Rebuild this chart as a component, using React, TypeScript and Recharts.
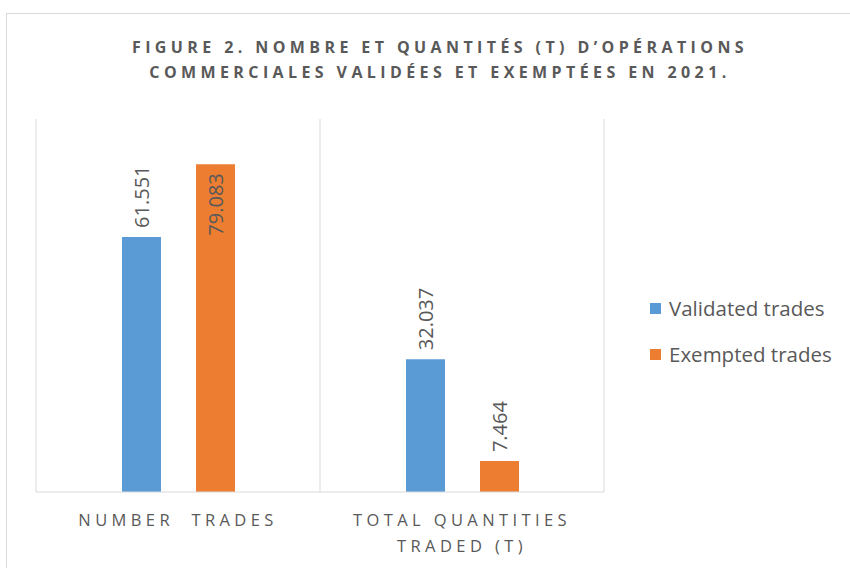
import React from "react";
import { BarChart, Bar, XAxis, YAxis, CartesianGrid, LabelList } from "recharts";

const categories = ["NUMBER  TRADES", "TOTAL QUANTITIES\nTRADED (T)"];
const validated = [61.551, 32.037];
const exempted = [79.083, 7.464];
const series = [
  { key: "validated", name: "Validated trades", color: "#5B9BD5" },
  { key: "exempted", name: "Exempted trades", color: "#ED7D31" },
];
const titleLines = [
  "FIGURE 2. NOMBRE ET QUANTITÉS (T) D’OPÉRATIONS",
  "COMMERCIALES VALIDÉES ET EXEMPTÉES EN 2021.",
];

const data = categories.map((c, i) => ({
  name: c,
  validated: validated[i],
  exempted: exempted[i],
}));

const FONT = "'Open Sans', sans-serif";
const TEXT = "#595959";
const GRID = "#D9D9D9";
const PLOT_TOP = 119;

function CategoryTick(props: any) {
  const { x, y, payload } = props;
  const lines = String(payload.value).split("\n");
  return (
    <g>
      {lines.map((l, i) => (
        <text
          key={i}
          x={x}
          y={y + 26 + i * 26}
          textAnchor="middle"
          fill={TEXT}
          fontSize={16.5}
          fontFamily={FONT}
          letterSpacing={4.4}
          style={{ whiteSpace: "pre" }}
        >
          {l}
        </text>
      ))}
    </g>
  );
}

function ValueLabel(props: any) {
  const { x, y, width, value } = props;
  const cx = x + width / 2;
  const txt = Number(value).toFixed(3);
  const inside = y - 9 - txt.length * 10 < PLOT_TOP;
  const ty = inside ? y + 9 : y - 9;
  return (
    <text
      x={cx}
      y={ty}
      transform={`rotate(-90 ${cx} ${ty})`}
      textAnchor={inside ? "end" : "start"}
      dominantBaseline="central"
      fill={TEXT}
      fontSize={20}
      fontFamily={FONT}
    >
      {txt}
    </text>
  );
}

export default function App() {
  return (
    <div
      style={{
        position: "absolute",
        left: 0,
        top: 0,
        width: 850,
        height: 568,
        background: "#fff",
        fontFamily: FONT,
      }}
    >
      <div
        style={{
          position: "absolute",
          left: 6,
          top: 13,
          width: 844,
          height: 555,
          borderLeft: "1px solid #D9D9D9",
          borderTop: "1px solid #D9D9D9",
        }}
      />
      <div
        style={{
          position: "absolute",
          left: 40,
          width: 800,
          top: 35,
          textAlign: "center",
          color: TEXT,
          fontWeight: 700,
          fontSize: 16,
          letterSpacing: 4.4,
          lineHeight: "25px",
        }}
      >
        {titleLines.map((t) => (
          <div key={t}>{t}</div>
        ))}
      </div>
      <BarChart
        width={850}
        height={568}
        data={data}
        margin={{ top: PLOT_TOP, right: 246, left: 36, bottom: 0 }}
        barCategoryGap={85}
        barGap={35}
        barSize={39}
      >
        <CartesianGrid
          horizontal={false}
          stroke={GRID}
          verticalCoordinatesGenerator={({ offset }: any) => [
            offset.left,
            offset.left + offset.width / 2,
            offset.left + offset.width,
          ]}
        />
        <XAxis
          dataKey="name"
          height={76}
          axisLine={{ stroke: GRID }}
          tickLine={false}
          tick={<CategoryTick />}
          interval={0}
        />
        <YAxis hide domain={[0, 90]} />
        {series.map((s) => (
          <Bar key={s.key} dataKey={s.key} name={s.name} fill={s.color} isAnimationActive={false}>
            <LabelList dataKey={s.key} content={<ValueLabel />} />
          </Bar>
        ))}
      </BarChart>
      <div style={{ position: "absolute", left: 650, top: 295 }}>
        {series.map((s, i) => (
          <div
            key={s.key}
            style={{
              display: "flex",
              alignItems: "center",
              height: 26,
              marginBottom: i === 0 ? 20 : 0,
              color: TEXT,
              fontSize: 20.5,
            }}
          >
            <span style={{ width: 11, height: 11, background: s.color, marginRight: 8 }} />
            {s.name}
          </div>
        ))}
      </div>
    </div>
  );
}
